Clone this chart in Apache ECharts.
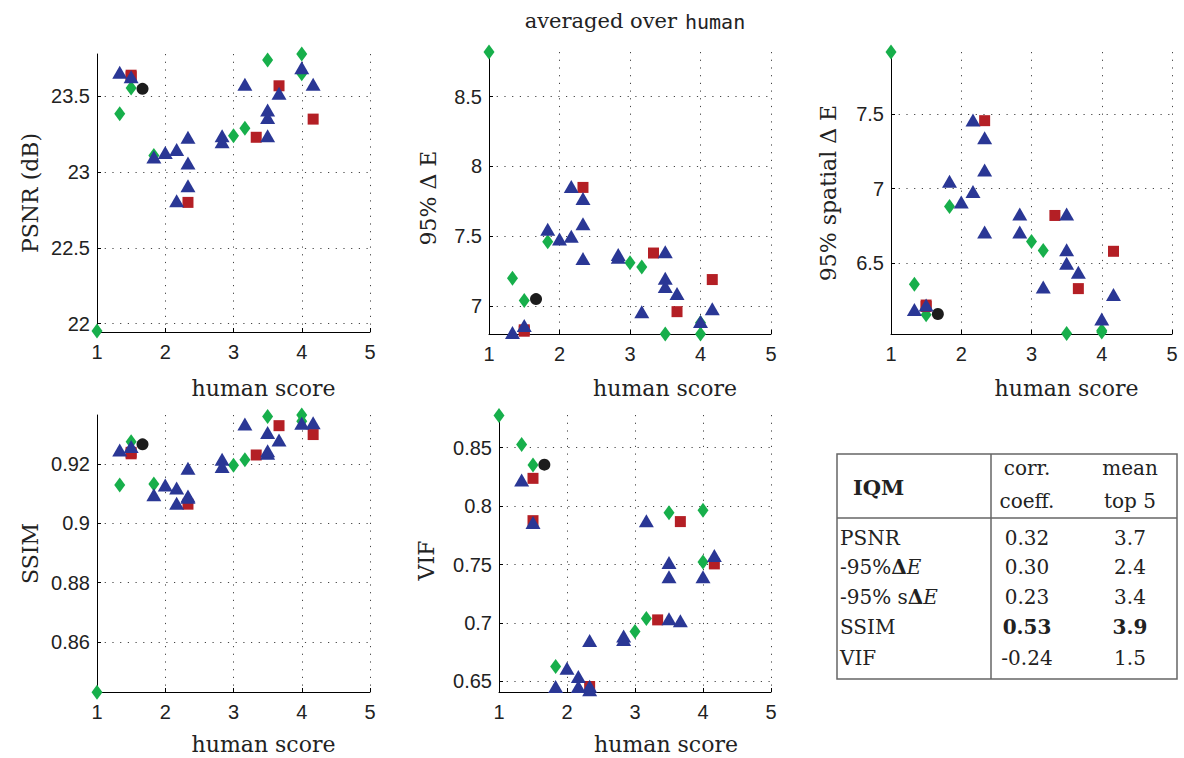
<!DOCTYPE html>
<html>
<head>
<meta charset="utf-8">
<script src="https://cdn.jsdelivr.net/npm/echarts@6/dist/echarts.min.js"></script>
<style>
html, body { margin: 0; padding: 0; background: #fff; }
#main { width: 1184px; height: 758px; }
</style>
</head>
<body>
<div id="main"></div>
<script>
// human scores (x) for each marker group, shared by all panels
const diamondScores = [1, 1.333, 1.5, 1.833, 3, 3.167, 3.5, 4, 4]
const squareScores = [1.5, 1.5, 2.333, 3.333, 3.667, 4.167]
const circleScores = [1.667]
const triangleScores = [1.333, 1.5, 1.833, 2, 2.167, 2.167, 2.333, 2.333, 2.333, 2.833, 2.833, 3.167, 3.5, 3.5, 3.5, 3.667, 4, 4.167]

// PSNR (dB)
const psnrDiamond = [21.95, 23.385, 23.555, 23.11, 23.24, 23.29, 23.74, 23.78, 23.65]
const psnrSquare = [23.64, 23.63, 22.80, 23.23, 23.57, 23.35]
const psnrCircle = [23.55]
const psnrTriangle = [23.66, 23.63, 23.10, 23.13, 23.15, 22.81, 23.23, 23.06, 22.91, 23.24, 23.20, 23.58, 23.41, 23.36, 23.24, 23.52, 23.69, 23.58]
const psnrTicks = [22, 22.5, 23, 23.5]

// 95% delta E
const deDiamond = [8.82, 7.20, 7.04, 7.46, 7.31, 7.28, 6.80, 6.88, 6.80]
const deSquare = [6.83, 6.82, 7.85, 7.38, 6.96, 7.19]
const deCircle = [7.05]
const deTriangle = [6.81, 6.86, 7.55, 7.48, 7.856, 7.50, 7.77, 7.59, 7.34, 7.37, 7.35, 6.96, 7.39, 7.20, 7.14, 7.09, 6.89, 6.98]
const deTicks = [7, 7.5, 8, 8.5]

// 95% spatial delta E
const sdeDiamond = [7.915, 6.36, 6.155, 6.88, 6.645, 6.585, 6.03, 6.05, 6.04]
const sdeSquare = [6.22, 6.21, 7.455, 6.82, 6.33, 6.58]
const sdeCircle = [6.16]
const sdeTriangle = [6.19, 6.22, 7.05, 6.91, 7.46, 6.98, 7.34, 7.125, 6.71, 6.83, 6.71, 6.34, 6.83, 6.59, 6.50, 6.44, 6.127, 6.29]
const sdeTicks = [6.5, 7, 7.5]

// SSIM
const ssimDiamond = [0.843, 0.913, 0.9276, 0.9133, 0.9196, 0.9215, 0.9361, 0.9366, 0.9345]
const ssimSquare = [0.9235, 0.9240, 0.9065, 0.9231, 0.933, 0.930]
const ssimCircle = [0.9267]
const ssimTriangle = [0.9248, 0.926, 0.9097, 0.913, 0.912, 0.9068, 0.9186, 0.9093, 0.9088, 0.9217, 0.9192, 0.9336, 0.9307, 0.9237, 0.9245, 0.9282, 0.9338, 0.934]
const ssimTicks = [0.86, 0.88, 0.9, 0.92]

// VIF
const vifDiamond = [0.8776, 0.8528, 0.8352, 0.6628, 0.6927, 0.7038, 0.7944, 0.7964, 0.7523]
const vifSquare = [0.8238, 0.7876, 0.6457, 0.7027, 0.7868, 0.7506]
const vifCircle = [0.8355]
const vifTriangle = [0.8224, 0.786, 0.6457, 0.6614, 0.6543, 0.6457, 0.685, 0.646, 0.643, 0.689, 0.686, 0.7876, 0.7517, 0.7397, 0.7036, 0.7019, 0.7397, 0.7577]
const vifTicks = [0.65, 0.7, 0.75, 0.8, 0.85]

// table
const tableMetrics = ['PSNR', '-95%{i|Δ}{ie|E}', '-95% s{i|Δ}{ie|E}', 'SSIM', 'VIF']
const tableCorr = ['0.32', '0.30', '0.23', '0.53', '-0.24']
const tableTop5 = ['3.7', '2.4', '3.4', '3.9', '1.5']
const tableBoldRow = 3

const serif = '"DejaVu Serif", serif'
const sans = '"Liberation Sans", Arial, sans-serif'
const mono = '"DejaVu Sans Mono", monospace'

const groups = [
  { key: 'diamond', scores: diamondScores, symbol: 'diamond', size: [11, 15], color: '#17AF4B' },
  { key: 'square', scores: squareScores, symbol: 'rect', size: [11, 11], color: '#B41F25' },
  { key: 'circle', scores: circleScores, symbol: 'circle', size: 12, color: '#1c1c1c' },
  { key: 'triangle', scores: triangleScores, symbol: 'triangle', size: [15, 13], color: '#2A3795' }
]

const panels = [
  { name: 'PSNR (dB)', box: { left: 97, top: 54, width: 273, height: 278 }, min: 21.944, max: 23.78, ticks: psnrTicks,
    yGap: 56, xGap: 45, xShift: 30, yPad: 0,
    values: { diamond: psnrDiamond, square: psnrSquare, circle: psnrCircle, triangle: psnrTriangle } },
  { name: '95% Δ E', box: { left: 489, top: 52, width: 282, height: 282 }, min: 6.80, max: 8.82, ticks: deTicks,
    yGap: 50, xGap: 43, xShift: 35, yPad: 10,
    values: { diamond: deDiamond, square: deSquare, circle: deCircle, triangle: deTriangle } },
  { name: '95% spatial Δ E', box: { left: 891, top: 52, width: 281, height: 282 }, min: 6.026, max: 7.915, ticks: sdeTicks,
    yGap: 52, xGap: 43, xShift: 35, yPad: 0,
    values: { diamond: sdeDiamond, square: sdeSquare, circle: sdeCircle, triangle: sdeTriangle } },
  { name: 'SSIM', box: { left: 97, top: 415, width: 273, height: 277 }, min: 0.8431, max: 0.9366, ticks: ssimTicks,
    yGap: 56, xGap: 41, xShift: 30, yPad: 0,
    values: { diamond: ssimDiamond, square: ssimSquare, circle: ssimCircle, triangle: ssimTriangle } },
  { name: 'VIF', box: { left: 499, top: 415, width: 272, height: 277 }, min: 0.641, max: 0.878, ticks: vifTicks,
    yGap: 62, xGap: 41, xShift: 31, yPad: 14,
    values: { diamond: vifDiamond, square: vifSquare, circle: vifCircle, triangle: vifTriangle } }
]

const dotted = { color: '#444', width: 1, type: [1.2, 6.5] }

const grid = []
const xAxis = []
const yAxis = []
const series = []

panels.forEach((p, i) => {
  grid.push(Object.assign({ containLabel: false }, p.box))
  xAxis.push({
    gridIndex: i, type: 'value', min: 1, max: 5, interval: 1,
    name: 'human score', nameLocation: 'middle', nameGap: p.xGap,
    nameTextStyle: { fontFamily: serif, fontSize: 22, color: '#222', padding: [0, 0, 0, p.xShift * 2] },
    axisLine: { lineStyle: { color: '#000', width: 1 } },
    axisTick: { inside: true, length: 4, lineStyle: { color: '#000' } },
    axisLabel: { fontFamily: sans, fontSize: 20, color: '#222', margin: 10 },
    splitLine: { show: true, lineStyle: dotted }
  })
  yAxis.push({
    gridIndex: i, type: 'value', min: p.min, max: p.max,
    name: p.name, nameLocation: 'middle', nameGap: p.yGap,
    // right padding on the rotated name moves it down the axis
    nameTextStyle: { fontFamily: serif, fontSize: 22, color: '#222', padding: [0, p.yPad, 0, 0] },
    axisLine: { show: true, lineStyle: { color: '#000', width: 1 } },
    axisTick: { show: true, inside: true, length: 4, customValues: p.ticks, lineStyle: { color: '#000' } },
    axisLabel: { customValues: p.ticks, fontFamily: sans, fontSize: 20, color: '#222', margin: 7 },
    splitLine: { show: true, lineStyle: dotted }
  })
  groups.forEach((g, k) => {
    series.push({
      type: 'scatter', xAxisIndex: i, yAxisIndex: i,
      symbol: g.symbol, symbolSize: g.size,
      itemStyle: { color: g.color, opacity: 1 },
      data: g.scores.map((x, n) => [x, p.values[g.key][n]]),
      clip: false, silent: true, z: 3 + k
    })
  })
})

// title + table drawn with graphic elements
const tbl = { left: 837, top: 454, right: 1177, bottom: 679, split: 991, head: 518 }
const rowY = [538, 567, 597, 627, 658]
const colCorr = 1027
const colTop = 1130
const rich = {
  i: { fontFamily: serif, fontSize: 20, fontWeight: 'bold', fill: '#222' },
  ie: { fontFamily: serif, fontSize: 20, fontStyle: 'italic', fill: '#222' }
}
const graphic = [
  { type: 'text', style: { text: 'averaged over', x: 677, y: 21, fontFamily: 'DejaVu Serif', fontSize: 21, fill: '#222', textAlign: 'right', textVerticalAlign: 'middle' } },
  { type: 'text', style: { text: 'human', x: 685, y: 22, fontFamily: 'DejaVu Sans Mono', fontSize: 20, fill: '#222', textAlign: 'left', textVerticalAlign: 'middle' } },
  { type: 'rect', shape: { x: tbl.left, y: tbl.top, width: tbl.right - tbl.left, height: tbl.bottom - tbl.top },
    style: { fill: 'none', stroke: '#666', lineWidth: 1.5 } },
  { type: 'line', shape: { x1: tbl.split, y1: tbl.top, x2: tbl.split, y2: tbl.bottom }, style: { stroke: '#666', lineWidth: 1.5 } },
  { type: 'line', shape: { x1: tbl.left, y1: tbl.head, x2: tbl.right, y2: tbl.head }, style: { stroke: '#666', lineWidth: 1.5 } },
  { type: 'text', style: { text: 'IQM', x: 853, y: 487, font: 'bold 21px ' + serif, fill: '#222', textVerticalAlign: 'middle' } },
  { type: 'text', style: { text: 'corr.', x: colCorr, y: 468, font: '20px ' + serif, fill: '#222', textAlign: 'center', textVerticalAlign: 'middle' } },
  { type: 'text', style: { text: 'coeff.', x: colCorr, y: 501, font: '20px ' + serif, fill: '#222', textAlign: 'center', textVerticalAlign: 'middle' } },
  { type: 'text', style: { text: 'mean', x: colTop, y: 468, font: '20px ' + serif, fill: '#222', textAlign: 'center', textVerticalAlign: 'middle' } },
  { type: 'text', style: { text: 'top 5', x: colTop, y: 501, font: '20px ' + serif, fill: '#222', textAlign: 'center', textVerticalAlign: 'middle' } }
]
tableMetrics.forEach((m, r) => {
  const w = r === tableBoldRow ? 'bold ' : ''
  graphic.push({ type: 'text', style: { text: m, x: 840, y: rowY[r], font: '20px ' + serif, fill: '#222', textVerticalAlign: 'middle', rich: rich } })
  graphic.push({ type: 'text', style: { text: tableCorr[r], x: colCorr, y: rowY[r], font: w + '20px ' + serif, fill: '#222', textAlign: 'center', textVerticalAlign: 'middle' } })
  graphic.push({ type: 'text', style: { text: tableTop5[r], x: colTop, y: rowY[r], font: w + '20px ' + serif, fill: '#222', textAlign: 'center', textVerticalAlign: 'middle' } })
})

const myChart = echarts.init(document.getElementById('main'), null, { renderer: 'svg' })
myChart.setOption({
  backgroundColor: '#fff',
  animation: false,
  grid: grid,
  xAxis: xAxis,
  yAxis: yAxis,
  series: series,
  graphic: graphic
})
</script>
</body>
</html>
